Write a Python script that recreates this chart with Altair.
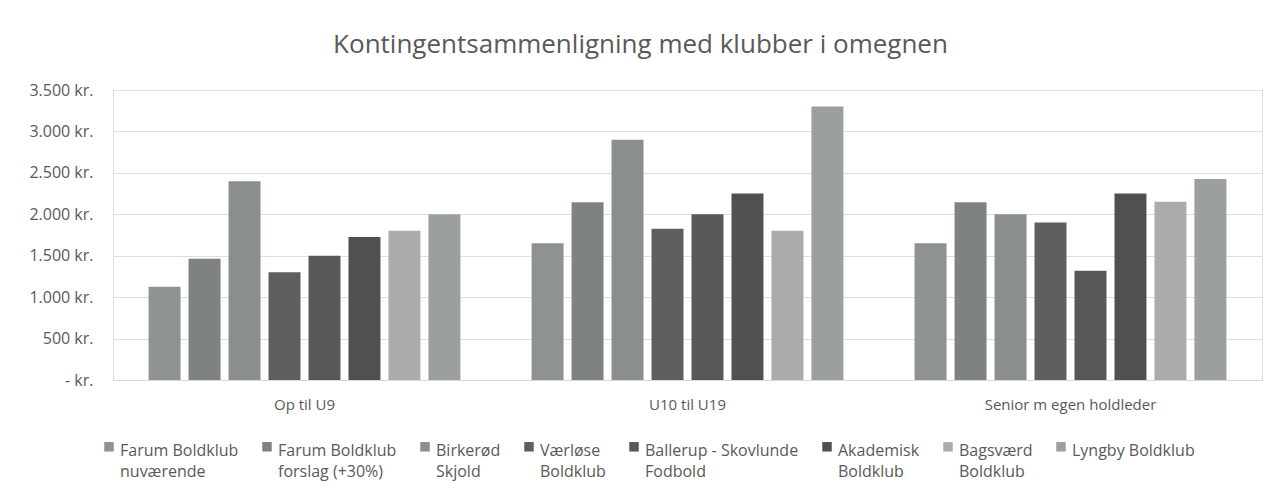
import altair as alt
import pandas as pd

groups = ["Op til U9", "U10 til U19", "Senior m egen holdleder"]
clubs = [
    "Farum Boldklub|nuværende",
    "Farum Boldklub|forslag (+30%)",
    "Birkerød|Skjold",
    "Værløse|Boldklub",
    "Ballerup - Skovlunde|Fodbold",
    "Akademisk|Boldklub",
    "Bagsværd|Boldklub",
    "Lyngby Boldklub| ",
]
farum_now = [1125, 1650, 1650]
farum_prop = [1463, 2145, 2145]
birkerod = [2400, 2900, 2000]
vaerlose = [1300, 1825, 1900]
ballerup = [1500, 2000, 1320]
akademisk = [1725, 2250, 2250]
bagsvaerd = [1800, 1800, 2150]
lyngby = [2000, 3300, 2425]
series = [farum_now, farum_prop, birkerod, vaerlose, ballerup, akademisk, bagsvaerd, lyngby]
colors = ["#8f938f", "#7f837f", "#8b8f8b", "#5e605f", "#575958", "#4f5150", "#a9aca9", "#9ca09c"]

rows = []
for club, vals in zip(clubs, series):
    for g, v in zip(groups, vals):
        rows.append({"Gruppe": g, "Klub": club, "Kontingent": v})
df = pd.DataFrame(rows)

FONT = "Open Sans"
TXT = "#595959"

# square symbol shifted slightly downward so it lines up with the first label line
SYMBOL = "M-1,-0.2L1,-0.2L1,1.8L-1,1.8Z"

chart = alt.Chart(df).mark_bar().encode(
    x=alt.X("Gruppe:N", sort=groups, title=None,
            scale=alt.Scale(paddingInner=0, paddingOuter=0),
            axis=alt.Axis(labelAngle=0, ticks=False, labelPadding=17, labelFontSize=15,
                          labelColor=TXT, labelFont=FONT, domainColor="#d9d9d9")),
    xOffset=alt.XOffset("Klub:N", sort=clubs,
                        scale=alt.Scale(paddingInner=0.2, paddingOuter=0.89)),
    y=alt.Y("Kontingent:Q", title=None,
            scale=alt.Scale(domain=[0, 3500], nice=False),
            axis=alt.Axis(values=[0, 500, 1000, 1500, 2000, 2500, 3000, 3500],
                          labelExpr="datum.value == 0 ? '-   kr.' : replace(format(datum.value, ',d'), ',', '.') + ' kr.'",
                          ticks=False, domain=False, labelPadding=20, labelFontSize=16,
                          labelColor=TXT, labelFont=FONT, gridColor="#dedede", gridWidth=1)),
    color=alt.Color("Klub:N", sort=clubs, title=None,
                    scale=alt.Scale(domain=clubs, range=colors),
                    legend=alt.Legend(orient="none", legendX=-12, legendY=345,
                                      direction="horizontal", columns=8,
                                      symbolType=SYMBOL, symbolSize=90, symbolStrokeWidth=0,
                                      labelExpr="split(datum.label, '|')",
                                      labelFontSize=16, labelFont=FONT, labelColor=TXT,
                                      labelLimit=300, columnPadding=20, symbolOffset=0,
                                      labelOffset=3, labelBaseline="top")),
).properties(
    width=1149,
    height=290,
    title=alt.TitleParams("Kontingentsammenligning med klubber i omegnen",
                          fontSize=26, font=FONT, fontWeight="normal", color=TXT,
                          anchor="middle", dx=-47, offset=24),
    autosize=alt.AutoSizeParams(type="none"),
    padding={"left": 105, "top": 82, "right": 15, "bottom": 110},
).configure_view(stroke=None).configure(
    background="white",
    style={"guide-label": {"lineHeight": 21}},
)

chart.save("out.html", embed_options={"renderer": "svg", "actions": False})
